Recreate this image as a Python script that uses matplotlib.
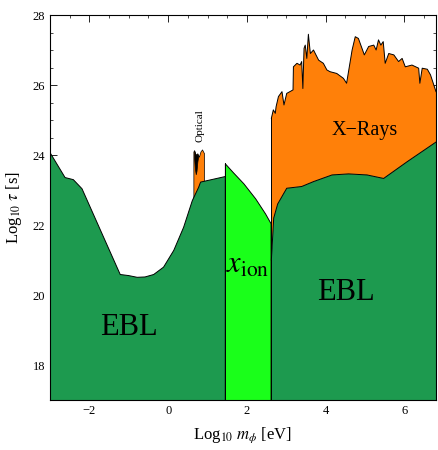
import matplotlib
matplotlib.use("Agg")
import matplotlib.pyplot as plt
from matplotlib.ticker import MultipleLocator
import numpy as np

plt.rcParams['font.family'] = ['Liberation Serif', 'DejaVu Serif']
plt.rcParams['mathtext.fontset'] = 'stix'

# EBL (left) boundary
ebl_left_x = [-3.0, -2.63, -2.42, -2.2, -1.23, -1.02, -0.8, -0.6, -0.38, -0.13, 0.13, 0.38, 0.6, 0.76, 0.81, 1.44]
ebl_left_y = [24.06, 23.37, 23.31, 23.05, 20.6, 20.57, 20.52, 20.53, 20.6, 20.81, 21.29, 21.95, 22.71, 23.09, 23.24, 23.4]

# x_ion band boundary
xion_x = [1.44, 1.65, 1.91, 2.21, 2.46, 2.6]
xion_y = [23.76, 23.5, 23.19, 22.76, 22.33, 22.05]

# EBL (right) boundary
ebl_right_x = [2.62, 2.68, 2.78, 3.01, 3.39, 3.69, 4.16, 4.58, 5.05, 5.47, 6.07, 6.8]
ebl_right_y = [21.0, 22.2, 22.6, 23.05, 23.1, 23.24, 23.43, 23.46, 23.43, 23.33, 23.81, 24.37]

# X-ray boundary
xray_x = [2.62, 2.67, 2.72, 2.74, 2.8, 2.89, 2.94, 3.01, 3.17, 3.18, 3.27, 3.35, 3.39, 3.42,
          3.45, 3.48, 3.52, 3.56, 3.61, 3.69, 3.82, 3.94, 4.03, 4.11, 4.28, 4.45, 4.53,
          4.67, 4.75, 4.83, 4.92, 4.98, 5.09, 5.22, 5.28, 5.34, 5.4, 5.46, 5.51, 5.6,
          5.73, 5.85, 5.94, 6.02, 6.19, 6.36, 6.39, 6.45, 6.58, 6.66, 6.8]
xray_y = [25.05, 25.29, 25.19, 25.38, 25.67, 25.81, 25.43, 25.76, 25.86, 26.52, 26.62, 26.57, 26.67, 25.9,
          27.05, 27.14, 26.76, 27.45, 26.9, 27.0, 26.71, 26.62, 26.43, 26.38, 26.33, 26.19, 26.05,
          27.0, 27.38, 27.33, 27.05, 26.86, 27.1, 27.14, 27.0, 27.29, 27.14, 27.24, 26.62, 26.9,
          26.86, 26.67, 26.76, 26.52, 26.57, 26.48, 26.05, 26.48, 26.45, 26.29, 25.81]

# Optical constraint
opt_x = [0.64, 0.66, 0.7, 0.74, 0.78, 0.82, 0.86, 0.91]
opt_y = [24.1, 24.14, 24.0, 24.05, 23.95, 24.1, 24.16, 24.05]
opt_low = [22.6, 22.65, 22.8, 22.95, 23.05, 23.15, 23.2, 23.2]
opt_black_x = [0.66, 0.68, 0.7, 0.72, 0.74, 0.76]
opt_black_top = [24.12, 24.05, 24.02, 24.0, 24.03, 23.98]
opt_black_bot = [23.9, 23.6, 23.45, 23.55, 23.8, 23.95]

DARK = '#1d9a4f'
LIGHT = '#1aff1a'
ORANGE = '#ff8009'
YMIN, YMAX = 17, 28

fig = plt.figure(figsize=(4.39, 4.5), dpi=100)
ax = fig.add_axes([50/439, 50/450, 386/439, 385/450])

ax.fill_between(ebl_left_x, YMIN, ebl_left_y, facecolor=DARK, edgecolor='black', linewidth=0.7, zorder=2)
ax.fill_between(xion_x, YMIN, xion_y, facecolor=LIGHT, edgecolor='black', linewidth=0.7, zorder=2)
ax.plot([xion_x[0], xion_x[0]], [YMIN, xion_y[0]], color='black', lw=0.7, zorder=3)
ax.plot([xion_x[-1], xion_x[-1]], [YMIN, xion_y[-1]], color='black', lw=0.7, zorder=3)

xr = np.array(xray_x)
low = np.interp(xr, ebl_right_x, ebl_right_y)
ax.fill_between(xr, low, np.array(xray_y), facecolor=ORANGE, edgecolor='none', zorder=2)
ax.plot(xray_x, xray_y, color='black', lw=0.7, zorder=3)
ax.plot([xray_x[0], xray_x[0]], [ebl_right_y[0], xray_y[0]], color='black', lw=0.7, zorder=3)
ax.fill_between(ebl_right_x, YMIN, ebl_right_y, facecolor=DARK, edgecolor='none', zorder=3)
ax.plot(ebl_right_x, ebl_right_y, color='black', lw=0.7, zorder=4)
ax.plot([ebl_right_x[0], ebl_right_x[0]], [YMIN, ebl_right_y[0]], color='black', lw=0.7, zorder=4)

ax.fill_between(opt_x, opt_low, opt_y, facecolor=ORANGE, edgecolor='black', linewidth=0.5, zorder=1.5)
ax.fill_between(opt_black_x, opt_black_bot, opt_black_top, facecolor='black', edgecolor='black', linewidth=0.5, zorder=1.6)

ax.text(0.81, 24.83, 'Optical', rotation=90, ha='center', va='center', fontsize=8, zorder=5)
ax.text(5.0, 24.7, 'X\u2212Rays', ha='center', va='center', fontsize=14.5, zorder=5)
ax.text(-1.01, 19.06, 'EBL', ha='center', va='center', fontsize=22, zorder=5)
ax.text(4.5, 20.06, 'EBL', ha='center', va='center', fontsize=22, zorder=5)
ax.text(2.02, 20.86, r'$x_{\rm ion}$', ha='center', va='center', fontsize=22, zorder=5)

ax.set_xlim(-3, 6.8)
ax.set_ylim(YMIN, YMAX)
ax.set_xticks([-2, 0, 2, 4, 6])
ax.set_yticks([18, 20, 22, 24, 26, 28])
ax.xaxis.set_minor_locator(MultipleLocator(0.5))
ax.yaxis.set_minor_locator(MultipleLocator(0.5))
ax.tick_params(which='both', direction='in', top=True, right=True, labelsize=9)
ax.tick_params(which='major', length=5, width=0.6)
ax.tick_params(which='minor', length=2.5, width=0.5)
for s in ax.spines.values():
    s.set_linewidth(0.8)
    s.set_zorder(6)

ax.set_xlabel(r'Log$_{10}$ $m_\phi$ [eV]', fontsize=12, labelpad=6)
ax.set_ylabel(r'Log$_{10}$ $\tau$ [s]', fontsize=12, labelpad=6)

fig.savefig('out.png', dpi=100)
